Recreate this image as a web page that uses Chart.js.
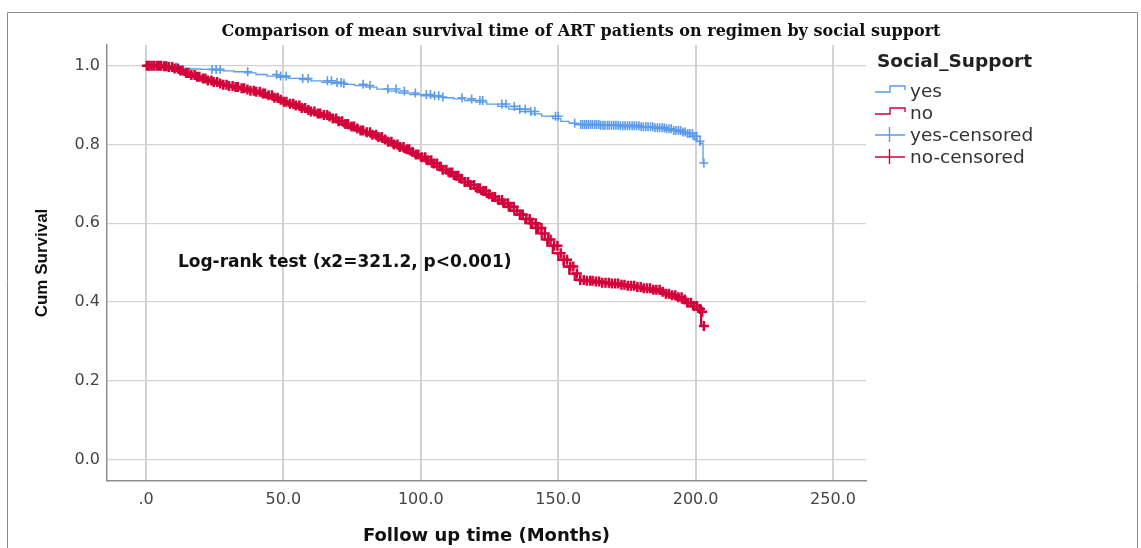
<!DOCTYPE html>
<html>
<head>
<meta charset="utf-8">
<script src="https://cdn.jsdelivr.net/npm/chart.js@4"></script>
<style>
  body { margin: 0; background: #fff; }
  canvas { display: block; }
</style>
</head>
<body>
<canvas id="km" width="1141" height="548"></canvas>
<script>
const chartTitle = "Comparison of mean survival time of ART patients on regimen by social support";
const legendTitle = "Social_Support";
const legendLabels = ["yes", "no", "yes-censored", "no-censored"];
const testNote = "Log-rank test (x2=321.2, p<0.001)";

const xTickValues = [0, 50, 100, 150, 200, 250];
const xTickLabels = [".0", "50.0", "100.0", "150.0", "200.0", "250.0"];
const yTickValues = [0, 0.2, 0.4, 0.6, 0.8, 1.0];
const yTickLabels = ["0.0", "0.2", "0.4", "0.6", "0.8", "1.0"];

// social support = yes (step points, months / cum survival)
const yesTimes = [0, 4, 8, 12, 16, 20, 24, 28, 32, 36, 40, 44, 48, 52, 56, 60, 64, 68, 72, 76, 80, 84, 88, 92, 96, 100, 104, 108, 112, 116, 120, 124, 128, 132, 136, 140, 144, 148, 151, 154, 156, 158, 165, 172, 180, 185, 189, 192, 195, 197, 199, 200.5, 201.5, 202.7, 203];
const yesSurv  = [1.0, 0.999, 0.997, 0.995, 0.994, 0.992, 0.991, 0.989, 0.987, 0.985, 0.982, 0.978, 0.974, 0.971, 0.968, 0.965, 0.962, 0.958, 0.955, 0.953, 0.95, 0.946, 0.941, 0.936, 0.931, 0.927, 0.924, 0.921, 0.919, 0.916, 0.912, 0.908, 0.903, 0.897, 0.89, 0.884, 0.878, 0.872, 0.866, 0.859, 0.854, 0.851, 0.849, 0.848, 0.845, 0.843, 0.84, 0.836, 0.832, 0.828, 0.821, 0.814, 0.808, 0.803, 0.753];
const yesCensored = [1.0, 3.2, 5.0, 7.0, 11.0, 24.0, 25.5, 27.0, 37.0, 47.5, 49.0, 51.0, 57.0, 59.0, 66.0, 67.5, 69.5, 71.0, 72.0, 79.0, 81.5, 88.0, 91.0, 94.0, 98.0, 102.0, 103.5, 105.0, 106.5, 108.0, 115.0, 118.5, 121.5, 122.5, 129.5, 131.0, 134.0, 136.0, 138.0, 140.0, 141.5, 149.0, 150.0, 156.0,
  158.2, 158.9, 159.6, 160.3, 161.0, 161.8, 162.5, 163.3, 164.0, 164.8, 165.5, 166.3, 167.0, 167.9, 168.6, 169.4, 170.2, 171.0, 171.8, 172.6, 173.5, 174.3, 175.2, 176.0, 176.9, 177.7, 178.5, 179.4, 180.2, 181.0, 181.9, 182.7, 183.6, 184.4, 185.2, 186.1, 186.9, 187.8, 188.6, 189.4, 190.3, 191.1, 192.0, 192.8, 193.7, 194.5, 195.4, 196.2, 197.1, 197.9, 198.8, 199.6, 200.4, 201.6, 203.0];

// social support = no
const noTimes = [0, 6, 8, 10, 12, 14, 16, 18, 20, 22, 24, 26, 28, 30, 32, 34, 36, 38, 40, 42, 44, 46, 48, 50, 52, 54, 56, 58, 60, 62, 64, 66, 68, 70, 72, 74, 76, 78, 80, 82, 84, 86, 88, 90, 92, 94, 96, 98, 100, 102, 104, 106, 108, 110, 112, 114, 116, 118, 120, 122, 124, 126, 128, 130, 132, 134, 136, 138, 140, 142, 144, 146, 148, 150, 152, 154, 156, 158, 160, 163, 166, 169, 172, 175, 178, 181, 184, 187, 189, 191, 193, 195, 197, 199, 201, 202, 203];
const noSurv  = [1.0, 0.999, 0.997, 0.993, 0.988, 0.982, 0.977, 0.972, 0.968, 0.963, 0.959, 0.955, 0.952, 0.949, 0.946, 0.943, 0.94, 0.937, 0.934, 0.93, 0.925, 0.919, 0.914, 0.909, 0.904, 0.899, 0.893, 0.888, 0.884, 0.879, 0.875, 0.871, 0.866, 0.859, 0.852, 0.846, 0.841, 0.836, 0.831, 0.825, 0.819, 0.813, 0.807, 0.8, 0.794, 0.788, 0.781, 0.775, 0.768, 0.76, 0.752, 0.744, 0.736, 0.729, 0.721, 0.713, 0.705, 0.697, 0.689, 0.682, 0.674, 0.667, 0.659, 0.651, 0.642, 0.632, 0.622, 0.611, 0.6, 0.588, 0.574, 0.559, 0.543, 0.524, 0.507, 0.49, 0.472, 0.456, 0.454, 0.452, 0.449, 0.447, 0.444, 0.441, 0.438, 0.435, 0.431, 0.426, 0.421, 0.417, 0.412, 0.406, 0.398, 0.39, 0.382, 0.375, 0.339];
const noCensored = [0.3, 1.1, 2.0, 2.8, 3.9, 4.7, 5.5, 6.6, 7.4, 8.3, 9.5, 10.4, 11.6, 12.5, 13.3, 14.6, 15.4, 16.5, 17.7, 18.6, 19.4, 20.7, 21.6, 22.5, 23.8, 24.6, 25.9, 27.0, 28.1, 29.3, 30.2, 31.5, 32.6, 33.4, 34.8, 35.7, 36.9, 38.0, 39.2, 40.1,
  41.4, 42.5, 43.3, 44.6, 45.8, 46.7, 47.9, 49.0, 50.2, 51.1, 52.4, 53.6, 54.5, 55.8, 56.7, 57.9, 59.1, 60.0, 61.3, 62.5, 63.4, 64.7, 65.9, 66.8, 68.0, 69.2, 70.1, 71.4, 72.6, 73.5, 74.8, 75.7, 76.9, 78.1, 79.0, 80.3, 81.5, 82.4, 83.7, 84.6,
  85.8, 87.0, 88.1, 89.3, 90.2, 91.5, 92.4, 93.7, 94.9, 95.8, 97.0, 98.2, 99.1, 100.4, 101.6, 102.5, 103.8, 104.7, 105.9, 107.1, 108.0, 109.3, 110.5, 111.4, 112.7, 113.6, 114.8, 116.0, 117.2, 118.1, 119.4, 120.6, 121.5, 122.8, 123.7, 124.9,
  126.1, 127.0, 128.3, 129.5, 130.4, 131.7, 132.6, 133.8, 135.0, 136.2, 137.1, 138.4, 139.6, 140.5, 141.8, 142.7, 143.9, 145.1, 146.3, 147.2, 148.5, 149.7, 150.9, 152.0, 153.2, 154.4, 155.5, 156.8, 158.0, 159.3, 160.4, 161.6, 162.5, 163.7,
  164.9, 166.0, 167.2, 168.4, 169.5, 170.7, 171.8, 173.0, 174.1, 175.3, 176.5, 177.6, 178.8, 180.0, 181.1, 182.3, 183.4, 184.6, 185.7, 186.9, 188.0, 189.2, 190.3, 191.4, 192.6, 193.7, 194.9, 196.0, 197.1, 198.3, 199.4, 200.5, 201.6, 202.4, 203.0];

const noteAt = { x: 11.6, y: 0.499 };

const blue = "#5b9ce8";
const red = "#d3003a";

function stepPoints(times, surv) {
  return times.map((t, i) => ({ x: t, y: surv[i] }));
}

// censored marks sit on the curve value at that time
function censorPoints(ct, times, surv) {
  return ct.map(t => {
    let s = surv[0];
    for (let i = 0; i < times.length; i++) {
      if (times[i] <= t) s = surv[i];
    }
    return { x: t, y: s };
  });
}

const decor = {
  id: "decor",
  afterDraw(chart) {
    const ctx = chart.ctx;
    ctx.save();

    // outer frame
    ctx.strokeStyle = "#8a8a8a";
    ctx.lineWidth = 1;
    ctx.beginPath();
    ctx.moveTo(7.5, 560);
    ctx.lineTo(7.5, 12.5);
    ctx.lineTo(1137.5, 12.5);
    ctx.lineTo(1137.5, 560);
    ctx.stroke();

    ctx.fillStyle = "#111";
    ctx.textBaseline = "middle";
    ctx.textAlign = "center";
    ctx.font = "bold 16px 'DejaVu Serif'";
    ctx.fillText(chartTitle, 581, 32);

    // log-rank note
    const xs = chart.scales.x, ys = chart.scales.y;
    ctx.textAlign = "left";
    ctx.font = "bold 17px 'DejaVu Sans'";
    ctx.fillText(testNote, xs.getPixelForValue(noteAt.x), ys.getPixelForValue(noteAt.y));

    // legend
    ctx.font = "bold 18.5px 'DejaVu Sans'";
    ctx.fillStyle = "#222";
    ctx.fillText(legendTitle, 877, 62);
    const cols = [blue, red, blue, red];
    ctx.font = "18.5px 'DejaVu Sans'";
    legendLabels.forEach((lab, i) => {
      const y = 91 + i * 22;
      ctx.strokeStyle = cols[i];
      ctx.lineWidth = 1.4;
      ctx.beginPath();
      if (i < 2) {
        ctx.moveTo(875, y + 1);
        ctx.lineTo(890, y + 1);
        ctx.lineTo(890, y - 5);
        ctx.lineTo(905, y - 5);
        ctx.lineTo(905, y - 1);
      } else {
        ctx.moveTo(875, y);
        ctx.lineTo(905, y);
        ctx.moveTo(889.5, y - 8);
        ctx.lineTo(889.5, y + 7);
      }
      ctx.stroke();
      ctx.fillStyle = "#333";
      ctx.fillText(lab, 910, y + 1);
    });
    ctx.restore();
  }
};

new Chart(document.getElementById("km"), {
  type: "scatter",
  data: {
    datasets: [
      {
        label: legendLabels[3],
        data: censorPoints(noCensored, noTimes, noSurv),
        pointStyle: "cross",
        pointRadius: 5,
        pointBorderWidth: 2.5,
        borderColor: red,
        backgroundColor: red,
        showLine: false,
        order: 0
      },
      {
        label: legendLabels[1],
        data: stepPoints(noTimes, noSurv),
        showLine: true,
        stepped: "after",
        pointRadius: 0,
        borderWidth: 2.2,
        borderColor: red,
        order: 1
      },
      {
        label: legendLabels[2],
        data: censorPoints(yesCensored, yesTimes, yesSurv),
        pointStyle: "cross",
        pointRadius: 4.5,
        pointBorderWidth: 1.6,
        borderColor: blue,
        backgroundColor: blue,
        showLine: false,
        order: 2
      },
      {
        label: legendLabels[0],
        data: stepPoints(yesTimes, yesSurv),
        showLine: true,
        stepped: "after",
        pointRadius: 0,
        borderWidth: 1.3,
        borderColor: blue,
        order: 3
      }
    ]
  },
  options: {
    responsive: false,
    animation: false,
    devicePixelRatio: 1,
    layout: { padding: { top: 45, right: 275, left: 0, bottom: 0 } },
    plugins: {
      legend: { display: false },
      tooltip: { enabled: false }
    },
    scales: {
      x: {
        type: "linear",
        min: -14.2,
        max: 262,
        afterBuildTicks: axis => { axis.ticks = xTickValues.map(v => ({ value: v })); },
        afterFit: axis => { axis.height = 67; },
        grid: { color: "#d2d2d2", lineWidth: 2, drawTicks: false },
        border: { color: "#8c8c8c", width: 1.5 },
        ticks: {
          padding: 9,
          color: "#454545",
          font: { family: "DejaVu Sans", size: 16 },
          maxRotation: 0,
          callback: (v, i) => xTickLabels[i]
        },
        title: {
          display: true,
          text: "Follow up time (Months)",
          color: "#111",
          font: { family: "DejaVu Sans", weight: "bold", size: 18 },
          padding: { top: 0, bottom: 1 }
        }
      },
      y: {
        type: "linear",
        min: -0.055,
        max: 1.053,
        afterBuildTicks: axis => { axis.ticks = yTickValues.map(v => ({ value: v })); },
        afterFit: axis => { axis.width = 107; },
        grid: { color: "#d2d2d2", lineWidth: 1.2, drawTicks: false },
        border: { color: "#8c8c8c", width: 1.5 },
        ticks: {
          padding: 7,
          color: "#454545",
          font: { family: "DejaVu Sans", size: 16 },
          callback: (v, i) => yTickLabels[i]
        },
        title: {
          display: true,
          text: "Cum Survival",
          color: "#111",
          font: { family: "Liberation Sans", weight: "bold", size: 17 },
          padding: { top: 32, bottom: 0 }
        }
      }
    }
  },
  plugins: [decor]
});
</script>
</body>
</html>
